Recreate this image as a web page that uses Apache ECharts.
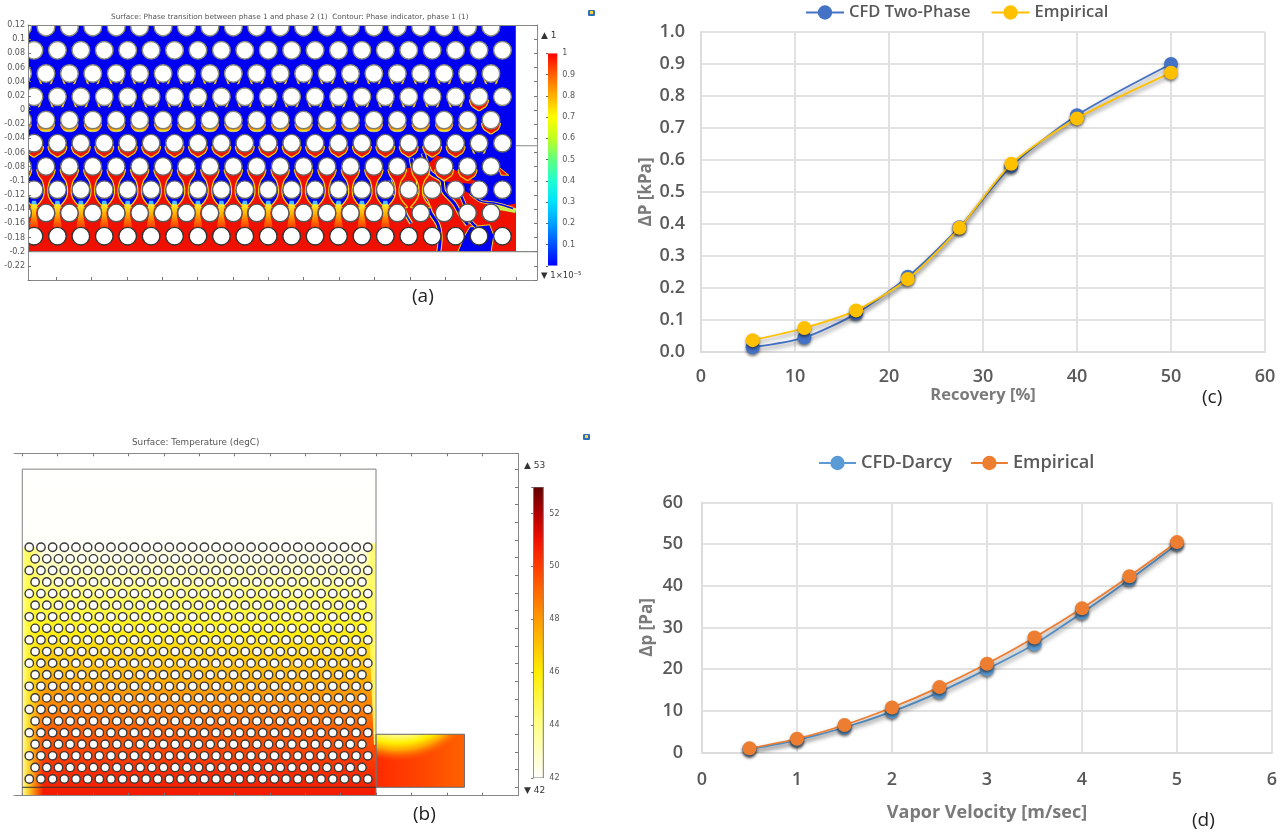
<!DOCTYPE html>
<html><head><meta charset="utf-8">
<style>html,body{margin:0;padding:0;background:#fff}#c{width:1287px;height:832px}</style>
<script src="https://cdn.jsdelivr.net/npm/echarts@6/dist/echarts.min.js"></script>
</head><body><div id="c"></div>
<script>
// ---------- line chart data ----------
const recovery = [5.5, 11, 16.5, 22, 27.5, 33, 40, 50];
const cfdTwoPhase = [0.015, 0.045, 0.12, 0.235, 0.39, 0.58, 0.74, 0.90];
const empiricalC = [0.037, 0.075, 0.13, 0.228, 0.388, 0.588, 0.73, 0.873];
const velocity = [0.5, 1, 1.5, 2, 2.5, 3, 3.5, 4, 4.5, 5];
const cfdDarcy = [0.8, 3, 6, 9.8, 14.5, 20, 26, 33.5, 41.5, 50];
const empiricalD = [1, 3.3, 6.6, 10.8, 15.7, 21.3, 27.6, 34.6, 42.3, 50.5];

// ---------- panel (a): lattice and wetting levels per tube (0 dry ... 5 wake) ----------
const rowYA = [.117, .0843, .0515, .0187, -.0141, -.0469, -.0797, -.1125, -.1453, -.1781];
const rowStartA = [-.0477, -.0315, -.0477, -.0315, -.0477, -.0315, -.0477, -.0315, -.0477, -.0315];
const pitchA = .03313;
const wet0 = [0,0,0,0,0,0,0,0,0,0,0,0,0,0,0,0,0,0,0,0,0];
const wet1 = [0,0,0,0,0,0,0,0,0,0,0,0,0,0,0,0,0,0,0,0,0];
const wet2 = [1,1,1,1,1,1,1,1,1,1,1,1,1,1,1,1,1,1,1,1,1];
const wet3 = [1,1,1,1,1,1,1,1,1,1,1,1,1,1,1,1,1,1,1,3,0];
const wet4 = [2,2,2,2,2,2,2,2,2,2,2,2,2,2,2,2,2,2,2,2,3];
const wet5 = [3,3,3,3,3,3,3,3,3,3,3,3,3,3,3,3,3,3,3,1,0];
const wet6 = [4,4,4,4,4,4,4,4,4,4,4,4,4,4,4,4,4,4,3,3,0];
const wet7 = [5,5,5,5,5,5,5,5,5,5,5,5,5,5,5,5,0,0,0,0,0];
const wet8 = [0,0,0,0,0,0,0,0,0,0,0,0,0,0,0,0,0,0,0,0,0];
const wet9 = [0,0,0,0,0,0,0,0,0,0,0,0,0,0,0,0,0,0,0,0,0];
const wetRows = [wet0, wet1, wet2, wet3, wet4, wet5, wet6, wet7, wet8, wet9];
const tubeEdgeA = ['#8d8d78','#8d8d78','#8d8d78','#8d8d78','#808070','#6a6a60','#666','#666','#555','#333'];
// liquid regions in the plume (metres)
const m = p => p.map(q => [q[0] / 1000, q[1] / 1000]);
const liquidSheet = m([[-40,-134],[450,-134],[450,-200],[-40,-200]]);
const plumeFront = m([[485,-87],[491,-82],[521,-82],[538,-64],[549,-68],[559,-82],[585,-97],[606,-104],[608,-127],[622,-137],[650,-132],[650,-200],[445,-200],[445,-134],[485,-134]]);
const plumeTip = m([[625,-80],[640,-92],[629,-92]]);
const dryPatchA = m([[568,-200],[578,-177],[585,-165],[613,-162],[619,-177],[615,-200]]);
const dryPatchB = m([[549,-101],[585,-104],[606,-104],[608,-127],[601,-129],[585,-118],[575,-113],[561,-122],[553,-118]]);
const veinB = m([[519,-61],[523,-73],[530,-89],[545,-99],[548,-115],[563,-132],[571,-146],[582,-162]]);
const veinC = m([[502,-68],[505,-82],[512,-99],[513,-115],[523,-129],[530,-146],[540,-162],[543,-181],[541,-200]]);
const veinD = m([[472,-99],[479,-118],[488,-132],[495,-148],[502,-160]]);
const veinE = m([[585,-118],[601,-129],[622,-132],[646,-139]]);
const veinF = m([[573,-122],[580,-139],[587,-158],[594,-165]]);
const streak = m([[622,-137],[635,-139],[650,-142]]);
const jetPos = [0, .1, .2, .3, .4, .5, .6, .7, .8, .9, 1];
const jetCol = ['#0000ff','#0050ff','#00a0ff','#00e0ff','#20ffd0','#60ff80','#c0ff20','#ffff00','#ffb000','#ff6000','#ff0000'];

// ---------- panel (b) ----------
const heatT = [42, 44, 46, 48, 50, 51, 52, 53];
const heatC = ['#fffffd','#ffff88','#ffee00','#ff9a00','#ff3c00','#f01000','#b00000','#600000'];
const tempH = [.45, .345, .32, .28, .222, .15, .08, .024, -.0119];
const tempV = [42, 42.05, 42.8, 44.3, 45.7, 47.6, 49.3, 50.3, 50.8];
const rowCountB = 21, colCountB = 30, rowY0B = .0117, rowPitchB = .01639, colX0B = .0099, colPitchB = .0165;
const boxB = [[.5,.075],[.625,.075],[.625,0],[.5,0]];
const tick05 = [0,.05,.1,.15,.2,.25,.3,.35,.4,.45,.5,.55,.6,.65];
const tickY025 = [0,.025,.05,.075,.1,.125,.15,.175,.2,.225,.25,.275,.3,.325,.35,.375,.4,.425,.45,.475];

// ---------- helpers ----------
const hex = c => [1,3,5].map(i => parseInt(c.substr(i,2),16));
function heatColor(t){
  let i = 0; while (i < heatT.length-2 && t > heatT[i+1]) i++;
  const f = (t-heatT[i])/(heatT[i+1]-heatT[i]), a = hex(heatC[i]), b = hex(heatC[i+1]);
  return 'rgb('+a.map((v,k)=>Math.round(v+(b[k]-v)*f)).join(',')+')';
}
const vGrad = stops => ({type:'linear',x:0,y:0,x2:0,y2:1,colorStops:stops});
const hGrad = stops => ({type:'linear',x:0,y:0,x2:1,y2:0,colorStops:stops});
function shapes(name, xi, yi, list, z){
  return {type:'custom', name, xAxisIndex:xi, yAxisIndex:yi, z, clip:true, silent:true, animation:false,
    data:list.map(s=>s.pts[0]), encode:{x:0,y:1}, tooltip:{show:false},
    renderItem:(p,api)=>{
      const s=list[p.dataIndex], pts=s.pts.map(q=>api.coord(q));
      const lineOnly=s.line;
      return {type:lineOnly?'polyline':'polygon', shape:{points:pts,smooth:s.smooth||0},
        style:{fill:lineOnly?null:s.fill, stroke:s.stroke||null, lineWidth:s.lw||1}};
    }};
}
function tailChildren(level,c){
  const poly=(rel,style,smooth)=>({type:'polygon',shape:{points:rel.map(q=>[c[0]+q[0],c[1]+q[1]]),smooth:smooth||0},style});
  if(level===1) return [
    poly([[-8,4],[-6,10],[-3.5,11],[-6,6]],{fill:'#ffd000'}),
    poly([[8,4],[6,10],[3.5,11],[6,6]],{fill:'#ffd000'})];
  if(level===2) return [poly([[-8.5,4],[-6.5,9.5],[-3,11.5],[3,11.5],[6.5,9.5],[8.5,4]],
    {fill:vGrad([{offset:.6,color:'#ff8000'},{offset:.85,color:'#ffe000'},{offset:1,color:'#70d0ff'}]),stroke:'#ffe860',lineWidth:.6},.3)];
  if(level===3) return [poly([[-9,3],[-7.5,9],[-3.5,12],[0,14],[3.5,12],[7.5,9],[9,3]],
    {fill:'#f01800',stroke:'#ffd800',lineWidth:1.2},.3)];
  if(level===4) return [poly([[-9,3],[-7.5,9],[-4,14],[-2.2,20],[-1.8,26],[-3,31],[-6,36],[-10,41],[10,41],[6,36],[3,31],[1.8,26],[2.2,20],[4,14],[7.5,9],[9,3]],
    {fill:'#f01000',stroke:'#ffd800',lineWidth:1.2},.2)];
  if(level===5) return [
    poly([[-2,11],[2,11],[3,16],[-3,16]],{fill:'#50c0ff'}),
    poly([[-3,15],[3,15],[2.2,24],[4,38],[-4,38],[-2.2,24]],
    {fill:vGrad([{offset:0,color:'#ffee30'},{offset:.4,color:'#ffb000'},{offset:1,color:'#ff3000'}])},.2)];
  return [];
}
// lattice points
const tailData=[], tubesA=[];
rowYA.forEach((y,r)=>{
  wetRows[r].forEach((lv,k)=>{
    const x = rowStartA[r]+k*pitchA;
    tailData.push([x,y,lv]);
    tubesA.push([x,y,r]);
  });
});
const tubesB=[];
for(let r=0;r<rowCountB;r++){
  const odd=r%2===1, n=odd?colCountB-1:colCountB;
  for(let k=0;k<n;k++) tubesB.push([colX0B+(odd?.00825:0)+k*colPitchB, rowY0B+r*rowPitchB]);
}
function tubes(name,xi,yi,data,radius,lw,edge){
  return {type:'custom',name,xAxisIndex:xi,yAxisIndex:yi,z:3,clip:true,silent:true,data,encode:{x:0,y:1},
    renderItem:(p,api)=>{
      const c=api.coord([api.value(0),api.value(1)]);
      return {type:'circle',shape:{cx:c[0],cy:c[1],r:radius},style:{fill:'#fff',stroke:edge(api),lineWidth:lw}};
    }};
}
// temperature gradient stops
const domainTop=.45, domainBottom=-.0119;
const tempStops=tempH.map((h,i)=>({offset:Math.min(1,(domainTop-h)/(domainTop-domainBottom)),color:heatColor(tempV[i])}));

const greyTxt='#555', ff='"DejaVu Sans",sans-serif', of='"Open Sans",sans-serif';
const labelStyle={color:'#595959',fontFamily:of,fontWeight:600,fontSize:18};
const thinAxis=c=>({show:true,lineStyle:{color:c||'#888',width:1}});
function frameX(grid,min,max,pos,ticks){
  return {type:'value',gridIndex:grid,min,max,position:pos,z:5,axisLine:{...thinAxis(),onZero:false},splitLine:{show:false},
    axisLabel:{show:false},axisTick:ticks?{show:true,inside:true,length:3,customValues:ticks,lineStyle:{color:'#777'}}:{show:false}};
}
function chartX(grid,max,interval,name,gap,size,margin){
  return {type:'value',gridIndex:grid,min:0,max,interval,name,nameLocation:'middle',nameGap:gap,
    nameTextStyle:{...labelStyle,fontWeight:700,fontSize:size,color:'#7a7a7a'},
    axisLine:{show:true,lineStyle:{color:'#dcdcdc',width:2}},axisTick:{show:false},axisLabel:{...labelStyle,margin},
    splitLine:{show:true,lineStyle:{color:'#e2e2e2',width:2}}};
}
function chartY(grid,max,interval,name,gap,margin,fmt){
  return {type:'value',gridIndex:grid,min:0,max,interval,name,nameLocation:'middle',nameGap:gap,
    nameTextStyle:{...labelStyle,fontWeight:700,fontSize:17,color:'#7a7a7a'},
    axisLine:{show:true,lineStyle:{color:'#dcdcdc',width:2}},axisTick:{show:false},axisLabel:{...labelStyle,margin,formatter:fmt},
    splitLine:{show:true,lineStyle:{color:'#e2e2e2',width:2}}};
}
function lineSeries(name,xi,yi,xs,ys,color,z){
  return {type:'line',name,xAxisIndex:xi,yAxisIndex:yi,z,smooth:.25,data:xs.map((x,i)=>[x,ys[i]]),
    symbol:'circle',symbolSize:14,showSymbol:true,animation:false,
    lineStyle:{color,width:1.8,shadowColor:'rgba(0,0,0,.5)',shadowBlur:4,shadowOffsetY:3},
    itemStyle:{color,shadowColor:'rgba(0,0,0,.5)',shadowBlur:3,shadowOffsetY:2}};
}
const legendBase={orient:'horizontal',itemHeight:18,formatter:n=>n.trim(),selectedMode:false};
const txt=(text,x,y,font,fill,align)=>({type:'text',x,y,silent:true,z:20,style:{text,font,fill:fill||greyTxt,textAlign:align||'left',textVerticalAlign:'middle'}});
const icon=(x,y)=>[{type:'rect',shape:{x:x-3,y:y-3,width:7,height:6,r:1},style:{fill:'#2f6fb5'},z:20,silent:true},
  {type:'rect',shape:{x:x-1,y:y-2,width:3,height:3},style:{fill:'#f4d44a'},z:21,silent:true}];

const option={
  animation:false,backgroundColor:'#fff',
  grid:[
    {left:28,top:25,width:509,height:255},
    {left:14,top:453.3,width:504,height:342.4},
    {left:548,top:53.3,width:9.3,height:212.5},
    {left:533.3,top:487,width:10,height:291},
    {left:701,top:32,width:564,height:320},
    {left:702,top:502.5,width:570,height:250}
  ],
  xAxis:[
    frameX(0,-.04,.68,'bottom',tick05),
    frameX(0,-.04,.68,'top'),
    frameX(1,-.0117,.7007,'bottom',tick05),
    frameX(1,-.0117,.7007,'top',tick05),
    {type:'value',gridIndex:2,min:0,max:1,show:false},
    {type:'value',gridIndex:3,min:0,max:1,show:false},
    chartX(4,60,10,'Recovery [%]',35,16.5,16),
    chartX(5,6,1,'Vapor Velocity [m/sec]',51,18,18)
  ],
  yAxis:[
    {type:'value',gridIndex:0,min:-.24,max:.12,interval:.02,z:5,axisLine:{...thinAxis(),onZero:false},splitLine:{show:false},
      axisTick:{show:true,inside:true,length:3,lineStyle:{color:'#777'}},
      axisLabel:{fontSize:8,fontFamily:ff,color:greyTxt,margin:3,formatter:v=>Math.abs(v+.24)<1e-6?'':String(+v.toFixed(2))}},
    {type:'value',gridIndex:0,min:-.24,max:.12,interval:.02,position:'right',z:5,axisLine:{...thinAxis(),onZero:false},splitLine:{show:false},
      axisTick:{show:true,inside:true,length:3,lineStyle:{color:'#777'}},axisLabel:{show:false}},
    {type:'value',gridIndex:1,min:-.0119,max:.4724,position:'right',z:5,axisLine:{...thinAxis(),onZero:false},splitLine:{show:false},
      axisTick:{show:true,inside:true,length:3,customValues:tickY025,lineStyle:{color:'#777'}},axisLabel:{show:false}},
    {type:'value',gridIndex:2,min:0,max:1,interval:.1,position:'right',z:5,axisLine:{show:false},splitLine:{show:false},
      axisTick:{show:true,inside:true,length:2,lineStyle:{color:'#666'}},
      axisLabel:{fontSize:8,fontFamily:ff,color:greyTxt,margin:5,formatter:v=>v<.01?'':String(+v.toFixed(1))}},
    {type:'value',gridIndex:3,min:42,max:53,interval:2,position:'right',z:5,axisLine:{show:false},splitLine:{show:false},
      axisTick:{show:true,inside:true,length:2,lineStyle:{color:'#666'}},
      axisLabel:{fontSize:8,fontFamily:ff,color:greyTxt,margin:6,formatter:v=>v>52.5?'':String(v)}},
    chartY(4,1,.1,'ΔP [kPa]',46,16,v=>v.toFixed(1)),
    chartY(5,60,10,'Δp [Pa]',46,19)
  ],
  legend:[
    {...legendBase,left:800,top:-1,itemWidth:38,itemGap:20,textStyle:{...labelStyle,fontSize:16.5},data:[{name:'CFD Two-Phase'},{name:'Empirical'}]},
    {...legendBase,left:813,top:449,itemWidth:37,itemGap:18,textStyle:{...labelStyle,fontSize:18.2},data:[{name:'CFD-Darcy'},{name:'Empirical '}]}
  ],
  series:[
    // panel (a) phase field
    shapes('phaseBase',0,0,[
      {pts:[[-.04,.12],[.65,.12],[.65,-.2],[-.04,-.2]],fill:'#0000f0'},
      {pts:liquidSheet,fill:'#f01000'},
      {pts:plumeFront,fill:'#f01000'},
      {pts:plumeTip,fill:'#f01000',stroke:'#ffd800',lw:1},
      {pts:dryPatchA,fill:'#0000f0',stroke:'#ffd800',lw:1},
      {pts:dryPatchB,fill:'#0000f0'},
      {pts:streak,line:true,stroke:'#c8f050',lw:5},
      {pts:veinE,line:true,stroke:'#ffe040',lw:3,smooth:.3},
      {pts:veinB,line:true,stroke:'#ffe040',lw:5,smooth:.3},
      {pts:veinC,line:true,stroke:'#ffe040',lw:5,smooth:.3},
      {pts:veinD,line:true,stroke:'#ffe040',lw:4,smooth:.3},
      {pts:veinF,line:true,stroke:'#ffe040',lw:4,smooth:.3},
      {pts:veinB,line:true,stroke:'#0000f0',lw:3,smooth:.3},
      {pts:veinC,line:true,stroke:'#0000f0',lw:3,smooth:.3},
      {pts:veinD,line:true,stroke:'#0030f0',lw:1.8,smooth:.3},
      {pts:veinF,line:true,stroke:'#0000f0',lw:2.4,smooth:.3},
      {pts:veinE,line:true,stroke:'#0000f0',lw:1.6,smooth:.3}
    ],1),
    {type:'custom',name:'phaseTails',xAxisIndex:0,yAxisIndex:0,z:2,clip:true,silent:true,data:tailData,encode:{x:0,y:1},
      renderItem:(p,api)=>{
        const lv=api.value(2); if(!lv) return null;
        return {type:'group',children:tailChildren(lv,api.coord([api.value(0),api.value(1)]))};
      }},
    tubes('tubesA',0,0,tubesA,8.8,1.4,api=>tubeEdgeA[api.value(2)]),
    {type:'line',name:'boundaryUpper',xAxisIndex:0,yAxisIndex:0,z:4,silent:true,symbol:'none',data:[[.65,-.0505],[.68,-.0505]],lineStyle:{color:'#888',width:1.2}},
    {type:'line',name:'boundaryLower',xAxisIndex:0,yAxisIndex:0,z:4,silent:true,symbol:'none',data:[[-.04,-.2],[.68,-.2]],lineStyle:{color:'#888',width:1.2}},
    // panel (b) temperature field
    shapes('tempField',2,2,[
      {pts:[[0,.45],[.5,.45],[.5,-.0119],[0,-.0119]],fill:vGrad(tempStops)},
      {pts:[[0,.34],[.03,.34],[.03,-.0119],[0,-.0119]],fill:hGrad([{offset:0,color:'rgba(255,255,150,1)'},{offset:.3,color:'rgba(255,250,60,.8)'},{offset:1,color:'rgba(255,240,0,0)'}])},
      {pts:[[.485,.345],[.5,.345],[.5,.06],[.497,.06]],fill:hGrad([{offset:0,color:'rgba(255,250,90,0)'},{offset:.5,color:'rgba(255,250,90,.8)'},{offset:1,color:'rgba(255,252,130,1)'}])},
      {pts:boxB,fill:hGrad([{offset:0,color:'#ff2a00'},{offset:.6,color:'#ff4a00'},{offset:1,color:'#ff6200'}])},
      {pts:boxB,fill:{type:'radial',x:.25,y:-1.2,r:1.9,colorStops:[{offset:.62,color:'rgba(255,255,170,1)'},{offset:.72,color:'rgba(255,240,0,1)'},{offset:.79,color:'rgba(255,170,0,.95)'},{offset:.9,color:'rgba(255,90,0,0)'}]}},
      {pts:[[0,.45],[.5,.45],[.5,-.0119],[0,-.0119]],stroke:'#808080',lw:1,fill:'rgba(0,0,0,0)'},
      {pts:boxB,stroke:'#6a6a6a',lw:1,fill:'rgba(0,0,0,0)'},
      {pts:[[0,0],[.5,0]],line:true,stroke:'#333',lw:1}
    ],1),
    tubes('tubesB',2,2,tubesB,4.2,1.4,()=>'#3a3a3a'),
    // colour bars
    shapes('phaseBar',4,3,[{pts:[[0,1],[1,1],[1,0],[0,0]],
      fill:vGrad(jetPos.map((p,i)=>({offset:1-p,color:jetCol[i]})).reverse())}],1),
    shapes('tempBar',5,4,[{pts:[[0,53],[1,53],[1,42],[0,42]],stroke:'#777',lw:1,
      fill:vGrad(heatT.map((t,i)=>({offset:(53-t)/11,color:heatC[i]})).reverse())}],1),
    // line charts
    lineSeries('CFD Two-Phase',6,5,recovery,cfdTwoPhase,'#4472c4',3),
    lineSeries('Empirical',6,5,recovery,empiricalC,'#ffc000',4),
    lineSeries('CFD-Darcy',7,6,velocity,cfdDarcy,'#5b9bd5',3),
    lineSeries('Empirical ',7,6,velocity,empiricalD,'#ed7d31',4)
  ],
  graphic:{elements:[
    txt('Surface: Phase transition between phase 1 and phase 2 (1)  Contour: Phase indicator, phase 1 (1)',111,17,'7.3px '+ff),
    txt('Surface: Temperature (degC)',132,442.5,'8.8px '+ff),
    txt('▲ 1',541,36,'9px '+ff,'#333'),
    txt('▼ 1×10⁻⁵',541,276,'8.5px '+ff,'#333'),
    txt('▲ 53',524,466,'9px '+ff,'#333'),
    txt('▼ 42',524,791,'9px '+ff,'#333'),
    txt('(a)',412,297,'19px '+of,'#222'),
    txt('(b)',413,815,'19px '+of,'#222'),
    txt('(c)',1202,398,'19px '+of,'#222'),
    txt('(d)',1192,821,'19px '+of,'#222'),
    ...icon(591,13),...icon(586,437)
  ]}
};
echarts.init(document.getElementById('c')).setOption(option);
</script></body></html>
